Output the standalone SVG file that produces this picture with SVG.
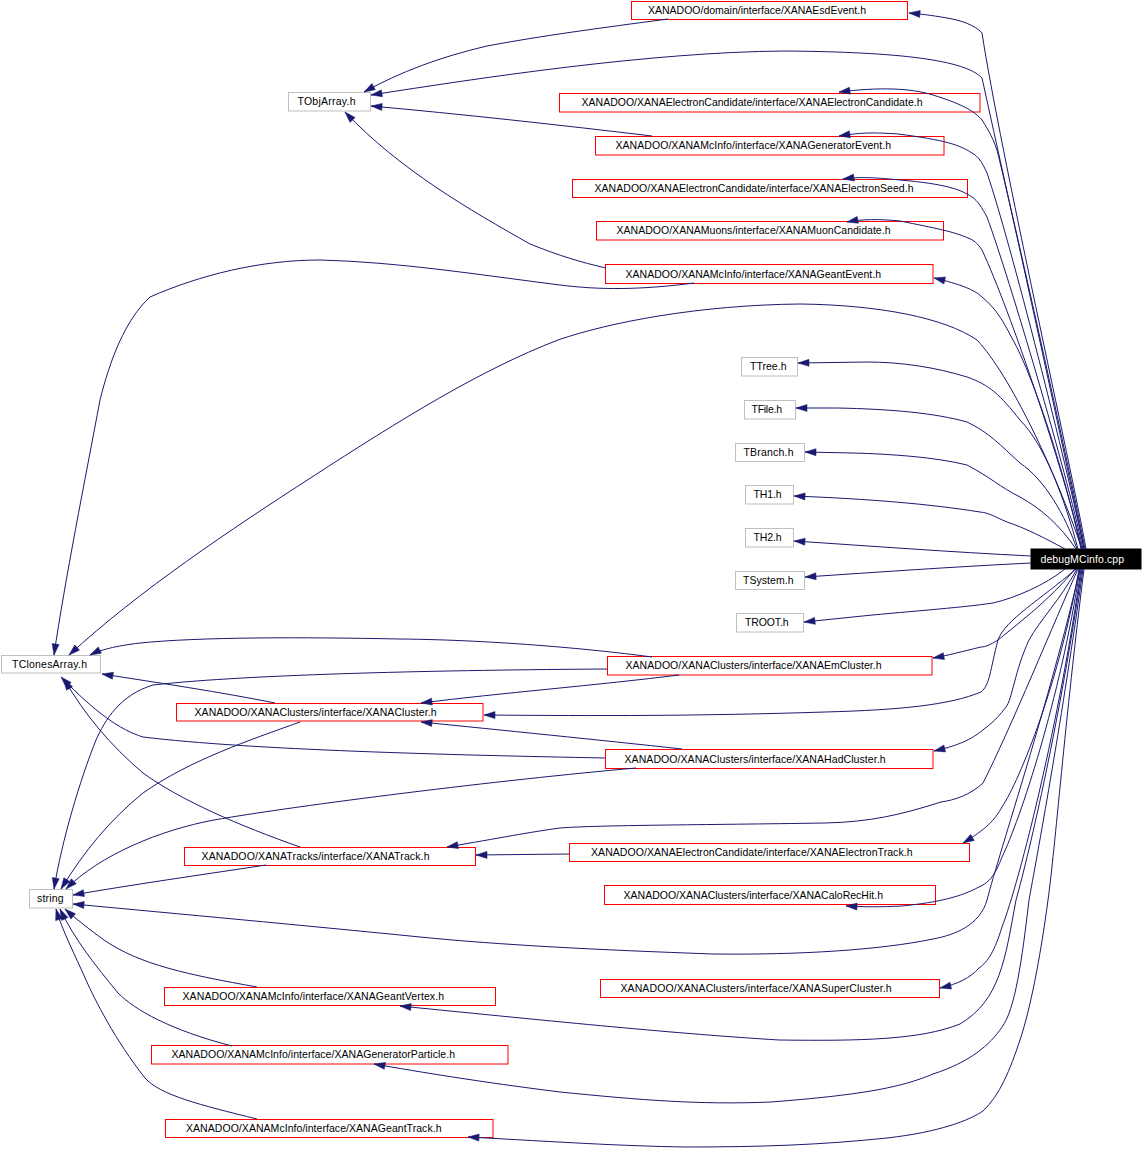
<svg xmlns="http://www.w3.org/2000/svg" width="1144" height="1158" viewBox="0 0 1144 1158">
<defs>
<style>
.g rect{fill:#fff;stroke:#bfbfbf;stroke-width:1}
.r rect{fill:#fff;stroke:#ff0000;stroke-width:1}
.b rect{fill:#000;stroke:#000;stroke-width:1}
text{font-family:"Liberation Sans",Arial,sans-serif;font-size:10.5px;fill:#000}
.b text{fill:#fff}
#edges path{fill:none;stroke:#191970;stroke-width:1;marker-end:url(#a)}
</style>
<marker id="a" markerUnits="userSpaceOnUse" markerWidth="11" markerHeight="7" refX="11" refY="3.5" orient="auto" overflow="visible"><path d="M0,0 L11,3.5 L0,7 z" fill="#191970" stroke="#191970" stroke-width="0.5"/></marker>
</defs>
<rect width="1144" height="1158" fill="#fff"/>
<g id="n_esd" class="r"><rect x="631.5" y="1.5" width="276" height="18"/><text x="648" y="14" textLength="218">XANADOO/domain/interface/XANAEsdEvent.h</text></g>
<g id="n_tobj" class="g"><rect x="288.5" y="92.5" width="82" height="18.5"/><text x="297.5" y="105.3" textLength="58">TObjArray.h</text></g>
<g id="n_ecand" class="r"><rect x="559.5" y="93.5" width="420.5" height="18.5"/><text x="581.5" y="106.3" textLength="341">XANADOO/XANAElectronCandidate/interface/XANAElectronCandidate.h</text></g>
<g id="n_genev" class="r"><rect x="595.5" y="136.5" width="348.5" height="18.5"/><text x="615.5" y="149.3" textLength="275.5">XANADOO/XANAMcInfo/interface/XANAGeneratorEvent.h</text></g>
<g id="n_eseed" class="r"><rect x="572.5" y="179.5" width="395" height="18"/><text x="594.5" y="192" textLength="319">XANADOO/XANAElectronCandidate/interface/XANAElectronSeed.h</text></g>
<g id="n_muon" class="r"><rect x="596.5" y="221.5" width="347" height="18.5"/><text x="616.5" y="234.3" textLength="274">XANADOO/XANAMuons/interface/XANAMuonCandidate.h</text></g>
<g id="n_geantev" class="r"><rect x="605.5" y="264.5" width="327.5" height="19"/><text x="625.5" y="277.5" textLength="255.5">XANADOO/XANAMcInfo/interface/XANAGeantEvent.h</text></g>
<g id="n_ttree" class="g"><rect x="741.5" y="357.5" width="56" height="18.5"/><text x="750" y="370.3" textLength="36.5">TTree.h</text></g>
<g id="n_tfile" class="g"><rect x="744.5" y="400.5" width="51" height="18.5"/><text x="751.5" y="413.3" textLength="30.5">TFile.h</text></g>
<g id="n_tbranch" class="g"><rect x="735.5" y="443.5" width="69" height="18"/><text x="743.5" y="456" textLength="50">TBranch.h</text></g>
<g id="n_th1" class="g"><rect x="745.5" y="485.5" width="48" height="18.5"/><text x="753.5" y="498.3" textLength="28">TH1.h</text></g>
<g id="n_th2" class="g"><rect x="745.5" y="528.5" width="48" height="18.5"/><text x="753.5" y="541.3" textLength="28">TH2.h</text></g>
<g id="n_tsys" class="g"><rect x="735.5" y="571.5" width="69" height="18"/><text x="743" y="584" textLength="50.5">TSystem.h</text></g>
<g id="n_troot" class="g"><rect x="736.5" y="613.5" width="67" height="18.5"/><text x="745" y="626.3" textLength="43.5">TROOT.h</text></g>
<g id="n_debug" class="b"><rect x="1031" y="549" width="110" height="20"/><text x="1040.5" y="562.5" textLength="83.5">debugMCinfo.cpp</text></g>
<g id="n_tclones" class="g"><rect x="1.5" y="655.5" width="99" height="17.5"/><text x="12" y="667.8" textLength="75">TClonesArray.h</text></g>
<g id="n_emcl" class="r"><rect x="607.5" y="656.5" width="324.5" height="18.5"/><text x="625.5" y="669.3" textLength="256">XANADOO/XANAClusters/interface/XANAEmCluster.h</text></g>
<g id="n_cluster" class="r"><rect x="176.5" y="703.5" width="306.5" height="17.5"/><text x="194.5" y="715.8" textLength="242">XANADOO/XANAClusters/interface/XANACluster.h</text></g>
<g id="n_hadcl" class="r"><rect x="605.5" y="749.5" width="327.5" height="19"/><text x="624.5" y="762.5" textLength="261">XANADOO/XANAClusters/interface/XANAHadCluster.h</text></g>
<g id="n_etrack" class="r"><rect x="569.5" y="843.5" width="400" height="18"/><text x="591" y="856" textLength="321.5">XANADOO/XANAElectronCandidate/interface/XANAElectronTrack.h</text></g>
<g id="n_track" class="r"><rect x="184.5" y="847.5" width="291" height="18"/><text x="201.5" y="860" textLength="228">XANADOO/XANATracks/interface/XANATrack.h</text></g>
<g id="n_calo" class="r"><rect x="604.5" y="885.5" width="331" height="19"/><text x="623.5" y="898.5" textLength="259.5">XANADOO/XANAClusters/interface/XANACaloRecHit.h</text></g>
<g id="n_string" class="g"><rect x="29.5" y="889.5" width="43" height="18.5"/><text x="37" y="902.3" textLength="26.5">string</text></g>
<g id="n_super" class="r"><rect x="600.5" y="979.5" width="339" height="18"/><text x="620.5" y="992" textLength="271">XANADOO/XANAClusters/interface/XANASuperCluster.h</text></g>
<g id="n_gvertex" class="r"><rect x="164.5" y="987.5" width="331" height="18"/><text x="182.5" y="1000" textLength="261.5">XANADOO/XANAMcInfo/interface/XANAGeantVertex.h</text></g>
<g id="n_genpart" class="r"><rect x="151.5" y="1045.5" width="356.5" height="18.5"/><text x="171.5" y="1058.3" textLength="283.5">XANADOO/XANAMcInfo/interface/XANAGeneratorParticle.h</text></g>
<g id="n_gtrack" class="r"><rect x="165.5" y="1119.5" width="327.5" height="18"/><text x="186" y="1132" textLength="255.5">XANADOO/XANAMcInfo/interface/XANAGeantTrack.h</text></g>
<g id="edges">
<path d="M668,19 C600,28 540,36 487,46 C440,57 400,72 364,92"/>
<path d="M1084,549 C1070,475 1000,160 982,78 C965,60 900,52 785,51 C650,52 480,78 371,95"/>
<path d="M652,136 C560,125 460,114 371,106"/>
<path d="M606,268 C580,262 560,256 530,244 C470,210 400,170 345,112"/>
<path d="M694,283 C640,290 600,290 560,285 C480,275 400,262 320,260 C260,260 200,275 150,297 C125,320 110,360 100,400 C85,480 65,580 54,655"/>
<path d="M1082,549 C1055,470 1010,375 977,340 C945,318 880,305 800,304 C700,305 610,322 558,340 C480,370 400,420 312,477 C230,530 140,590 69,655"/>
<path d="M652,657 C600,650 500,640 400,639 C300,637 200,637 140,643 C115,646 100,650 90,655"/>
<path d="M275,703 C220,692 160,683 102,674"/>
<path d="M605,758 C450,755 250,750 143,737 C120,730 95,712 61,677"/>
<path d="M300,847 C240,826 180,800 143,773 C110,745 85,715 64,679"/>
<path d="M607,669 C450,670 250,674 153,685 C120,695 105,720 96,740 C80,780 62,840 54,889"/>
<path d="M300,722 C250,740 190,760 143,793 C110,820 85,850 61,889"/>
<path d="M636,768 C500,780 300,805 214,820 C160,830 100,855 66,889"/>
<path d="M266,865 C200,875 130,885 73,895"/>
<path d="M1080,569 C1050,700 1000,850 987,900 C980,925 955,935 933,939 C880,950 800,955 713,954 C600,950 500,945 420,937 C300,925 180,914 73,904"/>
<path d="M257,987 C190,975 140,965 104,940 C90,930 75,918 65,909"/>
<path d="M232,1046 C170,1030 135,1010 118,993 C95,965 75,940 60,909"/>
<path d="M257,1119 C200,1105 160,1095 145,1078 C115,1040 95,1000 86,980 C75,955 62,930 56,909"/>
<path d="M679,675 C600,685 500,693 421,703"/>
<path d="M1076,569 C1040,600 1005,620 998,640 C990,670 990,685 981,692 C950,705 900,710 825,712 C700,716 600,716 484,715"/>
<path d="M682,749 C600,740 500,730 421,722"/>
<path d="M569,854 L476,855"/>
<path d="M1078,569 C1055,620 1010,730 983,783 C970,795 955,800 941,802 C900,815 870,822 825,823 C700,825 600,825 560,828 C530,832 500,838 447,847"/>
<path d="M1079,569 C1060,680 1020,780 1002,807 C995,820 985,830 963,843"/>
<path d="M1080,569 C1060,700 1020,820 1002,857 C995,875 990,882 979,887 C960,897 940,902 902,906 C880,907 865,907 846,906"/>
<path d="M1081,569 C1060,720 1020,880 1002,927 C995,950 988,962 979,968 C970,978 958,984 940,988"/>
<path d="M1082,569 C1060,720 1030,850 1016,900 C1005,960 1000,1000 960,1024 C920,1040 860,1041 779,1040 C680,1034 560,1022 400,1006"/>
<path d="M1083,569 C1062,720 1040,840 1029,900 C1022,960 1015,1010 1002,1027 C990,1045 970,1062 933,1074 C900,1088 860,1095 771,1102 C700,1105 640,1100 560,1092 C480,1082 420,1072 374,1064"/>
<path d="M1084,569 C1065,720 1055,850 1048,900 C1040,960 1030,1010 1020,1040 C1010,1070 1000,1095 983,1111 C970,1120 940,1132 887,1138 C820,1145 760,1147 686,1147 C620,1146 560,1142 468,1137"/>
<path d="M1077,569 C1060,600 1040,620 1029,640 C1015,670 1012,700 1006,707 C995,722 985,728 983,730 C970,740 960,745 934,751"/>
<path d="M1075,569 C1050,600 1010,630 998,640 C990,645 985,647 981,647 C960,652 950,655 933,658"/>
<path d="M1086,549 C1072,470 1000,150 982,33 C975,25 960,20 947,18 C930,15 920,14 909,13"/>
<path d="M1085,549 C1070,470 1012,210 997,150 C992,135 985,125 982,120 C975,112 965,105 933,95 C910,88 880,87 839,92"/>
<path d="M1084,549 C1068,470 1010,240 987,173 C982,162 978,156 972,153 C960,145 945,140 898,134 C870,132 858,133 839,136"/>
<path d="M1083,549 C1066,470 1010,280 987,217 C982,208 978,201 972,197 C960,189 945,184 900,180 C870,177 858,177 843,179"/>
<path d="M1082,549 C1064,470 1010,310 982,250 C978,244 974,240 968,238 C955,232 935,228 900,221 C880,219 862,219 847,222"/>
<path d="M1081,549 C1062,460 1030,370 1013,340 C1005,325 998,310 982,297 C975,290 960,284 934,278"/>
<path d="M1078,549 C1065,500 1045,445 1020,420 C1000,395 990,385 967,377 C935,367 900,362 867,362 L798,363"/>
<path d="M1077,549 C1065,515 1045,480 1020,463 C1000,445 990,433 967,422 C935,413 890,409 837,408 L796,408"/>
<path d="M1076,549 C1060,525 1040,508 1020,497 C1000,487 990,477 967,465 C935,457 890,454 853,453 L805,452"/>
<path d="M1065,549 C1045,538 1025,528 1007,522 C995,517 990,513 980,512 C930,504 870,499 794,496"/>
<path d="M1031,556 C950,552 870,546 794,541"/>
<path d="M1031,563 C950,567 880,572 805,577"/>
<path d="M1065,569 C1045,585 1015,598 993,603 C960,608 900,612 853,617 L804,622"/>
</g>
</svg>
